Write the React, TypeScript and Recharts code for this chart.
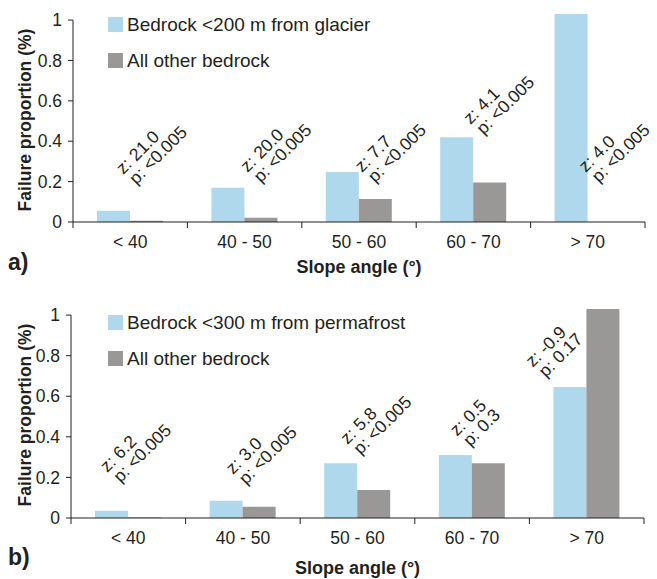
import React from 'react';
import { BarChart, Bar, XAxis, YAxis, ReferenceLine, ReferenceDot } from 'recharts';

// slope classes shared by both panels
const slopeClasses = ['< 40', '40 - 50', '50 - 60', '60 - 70', '> 70'];
const yTicks = [0, 0.2, 0.4, 0.6, 0.8, 1];

// panel a) glacier
const glacierNear = [0.056, 0.17, 0.248, 0.42, 1.03];
const glacierOther = [0.006, 0.021, 0.114, 0.195, 0];
const glacierZ = ['21.0', '20.0', '7.7', '4.1', '4.0'];
const glacierP = ['<0.005', '<0.005', '<0.005', '<0.005', '<0.005'];

// panel b) permafrost
const permafrostNear = [0.036, 0.085, 0.27, 0.31, 0.645];
const permafrostOther = [0.003, 0.056, 0.138, 0.27, 1.03];
const permafrostZ = ['6.2', '3.0', '5.8', '0.5', '-0.9'];
const permafrostP = ['<0.005', '<0.005', '<0.005', '0.3', '0.17'];

// where the z/p labels sit (height in axis units, shift from category centre in px)
const glacierLabelPos = [
  { at: 0.233, dx: -7 },
  { at: 0.243, dx: 3 },
  { at: 0.243, dx: 3 },
  { at: 0.48, dx: -3 },
  { at: 0.243, dx: -2 },
];
const permafrostLabelPos = [
  { at: 0.222, dx: -21 },
  { at: 0.212, dx: -10 },
  { at: 0.36, dx: -10 },
  { at: 0.4, dx: -15 },
  { at: 0.74, dx: -54 },
];

const FONT = '"Liberation Sans", Arial, Helvetica, sans-serif';
const INK = '#231f20';
const BLUE = '#afd8ec';
const GREY = '#999896';

const W = 657;
const H = 290;

const StatLabel = ({ cx, cy, z, p }: { cx: number; cy: number; z: string; p: string }) => (
  <text transform={`rotate(-45 ${cx} ${cy})`} fontFamily={FONT} fontSize={17.5} fill={INK}>
    <tspan x={cx} y={cy}>z: {z}</tspan>
    <tspan x={cx + 2} y={cy + 16.5}>p: {p}</tspan>
  </text>
);

type PanelProps = {
  top: number;
  plotLeft: number;
  plotRight: number;
  zeroY: number;
  near: number[];
  other: number[];
  nearName: string;
  zs: string[];
  ps: string[];
  pos: { at: number; dx: number }[];
  letter: string;
  legendTop: number;
  titleY: number;
};

const Panel = ({ top, plotLeft, plotRight, zeroY, near, other, nearName, zs, ps, pos, letter, legendTop, titleY }: PanelProps) => {
  const data = slopeClasses.map((c, i) => ({ slope: c, near: near[i], other: other[i] }));
  const band = (plotRight - plotLeft) / slopeClasses.length;
  const n = slopeClasses.length;

  const SlopeTick = (props: any) => {
    const { x, y, payload, index } = props;
    const half = band / 2;
    return (
      <g>
        <line x1={x - half} x2={x - half} y1={y} y2={y + 6} stroke={INK} />
        {index === n - 1 && <line x1={x + half} x2={x + half} y1={y} y2={y + 6} stroke={INK} />}
        <text x={x} y={y + 26} textAnchor="middle" fontFamily={FONT} fontSize={17.5} fill={INK}>
          {payload.value}
        </text>
      </g>
    );
  };

  return (
    <div style={{ position: 'absolute', top, left: 0, width: W, height: H }}>
      <BarChart
        width={W}
        height={H}
        data={data}
        margin={{ top: 14, right: W - plotRight, left: plotLeft - 60, bottom: H - zeroY - 30 }}
        barGap={0}
        barSize={33}
      >
        <XAxis
          dataKey="slope"
          height={30}
          tickLine={false}
          tickSize={0}
          tickMargin={0}
          axisLine={{ stroke: INK }}
          tick={SlopeTick}
          interval={0}
        />
        <YAxis
          width={60}
          domain={[0, 1.03]}
          ticks={yTicks}
          tickSize={5}
          tickMargin={6}
          axisLine={false}
          tickLine={{ stroke: INK }}
          tick={{ fill: INK, fontSize: 17.5, fontFamily: FONT }}
          tickFormatter={(v: number) => String(v)}
        />
        <ReferenceLine
          segment={[{ x: slopeClasses[0], y: 0 }, { x: slopeClasses[0], y: 1 }]}
          position="start"
          stroke={INK}
        />
        <Bar dataKey="near" fill={BLUE} isAnimationActive={false} />
        <Bar dataKey="other" fill={GREY} isAnimationActive={false} />
        {slopeClasses.map((c, i) => (
          <ReferenceDot
            key={c}
            x={c}
            y={pos[i].at}
            r={0}
            ifOverflow="visible"
            shape={(p: any) => <StatLabel cx={p.cx + pos[i].dx} cy={p.cy} z={zs[i]} p={ps[i]} />}
          />
        ))}
      </BarChart>
      <svg width={W} height={H} style={{ position: 'absolute', top: 0, left: 0, pointerEvents: 'none' }}>
        <g fontFamily={FONT} fill={INK}>
          <rect x={108} y={legendTop} width={15} height={15} fill={BLUE} />
          <text x={127} y={legendTop + 14} fontSize={19}>{nearName}</text>
          <rect x={108} y={legendTop + 36} width={15} height={15} fill={GREY} />
          <text x={127} y={legendTop + 50} fontSize={19}>All other bedrock</text>
          <text
            x={31}
            y={120}
            transform="rotate(-90 31 120)"
            textAnchor="middle"
            fontSize={17.5}
            fontWeight="bold"
          >
            Failure proportion (%)
          </text>
          <text x={(plotLeft + plotRight) / 2} y={titleY} textAnchor="middle" fontSize={18} fontWeight="bold">
            Slope angle (°)
          </text>
          <text x={8} y={270} fontSize={23} fontWeight="bold">{letter}</text>
        </g>
      </svg>
    </div>
  );
}

export default function App() {
  return (
    <div style={{ position: 'absolute', top: 0, left: 0, width: W, height: 579, background: '#fff' }}>
      <Panel
        top={0}
        plotLeft={73}
        plotRight={645}
        zeroY={222}
        near={glacierNear}
        other={glacierOther}
        nearName="Bedrock <200 m from glacier"
        zs={glacierZ}
        ps={glacierP}
        pos={glacierLabelPos}
        letter="a)"
        legendTop={17}
        titleY={273}
      />
      <Panel
        top={295}
        plotLeft={71}
        plotRight={644}
        zeroY={223}
        near={permafrostNear}
        other={permafrostOther}
        nearName="Bedrock <300 m from permafrost"
        zs={permafrostZ}
        ps={permafrostP}
        pos={permafrostLabelPos}
        letter="b)"
        legendTop={20}
        titleY={279}
      />
    </div>
  );
}
